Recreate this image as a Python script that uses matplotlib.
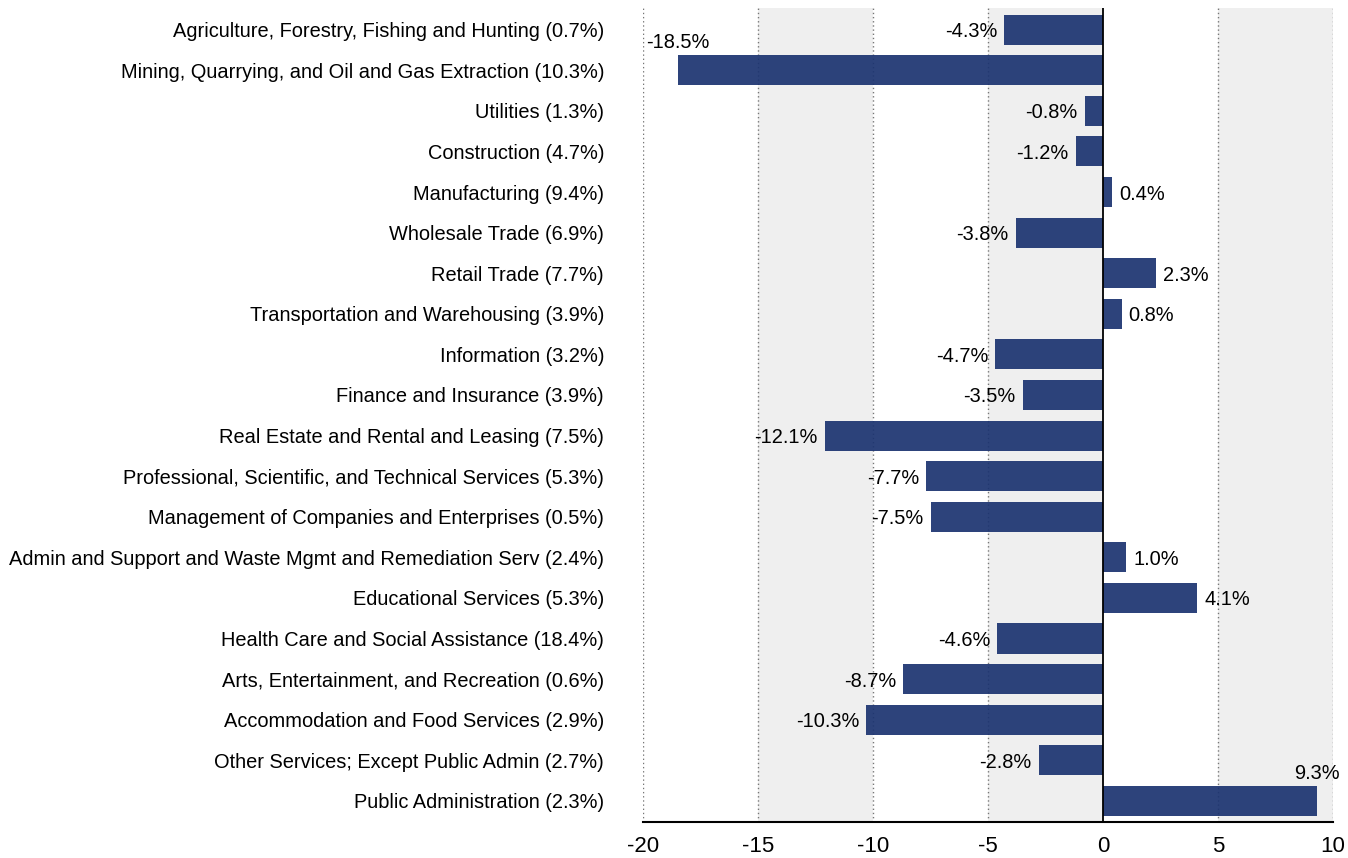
import matplotlib.pyplot as plt

categories = [
    "Agriculture, Forestry, Fishing and Hunting (0.7%)",
    "Mining, Quarrying, and Oil and Gas Extraction (10.3%)",
    "Utilities (1.3%)",
    "Construction (4.7%)",
    "Manufacturing (9.4%)",
    "Wholesale Trade (6.9%)",
    "Retail Trade (7.7%)",
    "Transportation and Warehousing (3.9%)",
    "Information (3.2%)",
    "Finance and Insurance (3.9%)",
    "Real Estate and Rental and Leasing (7.5%)",
    "Professional, Scientific, and Technical Services (5.3%)",
    "Management of Companies and Enterprises (0.5%)",
    "Admin and Support and Waste Mgmt and Remediation Serv (2.4%)",
    "Educational Services (5.3%)",
    "Health Care and Social Assistance (18.4%)",
    "Arts, Entertainment, and Recreation (0.6%)",
    "Accommodation and Food Services (2.9%)",
    "Other Services; Except Public Admin (2.7%)",
    "Public Administration (2.3%)",
]
values = [-4.3, -18.5, -0.8, -1.2, 0.4, -3.8, 2.3, 0.8, -4.7, -3.5,
          -12.1, -7.7, -7.5, 1.0, 4.1, -4.6, -8.7, -10.3, -2.8, 9.3]
xticks = [-20, -15, -10, -5, 0, 5, 10]

plt.rcParams["font.family"] = ["Liberation Sans", "DejaVu Sans"]
FS = 14.4

fig = plt.figure(figsize=(13.48, 8.58), dpi=100)
ax = fig.add_axes([0.477, 0.042, 0.512, 0.949])

# shaded bands
for lo in (-15, -5, 5):
    ax.axvspan(lo, lo + 5, color="#efefef", zorder=0, lw=0)
for x in xticks:
    if x != 0:
        ax.axvline(x, color="#777777", ls=(0, (1, 2)), lw=1.0, zorder=1)

pos = list(range(len(values)))
ax.barh(pos, values, height=0.74, color="#1b3370", alpha=0.92, zorder=2)
ax.axvline(0, color="black", lw=1.3, zorder=3)

for i, v in enumerate(values):
    txt = f"{v:.1f}%"
    if i in (1, 19):
        ax.text(v, i - 0.68, txt, ha="center", va="center", fontsize=FS, zorder=4)
    elif v < 0:
        ax.text(v - 0.3, i + 0.05, txt, ha="right", va="center", fontsize=FS, zorder=4)
    else:
        ax.text(v + 0.3, i + 0.05, txt, ha="left", va="center", fontsize=FS, zorder=4)

ax.set_xlim(-20, 10)
ax.set_ylim(19.52, -0.54)
ax.set_xticks(xticks)
ax.set_xticklabels([str(x) for x in xticks], fontsize=16)
ax.set_yticks(pos)
ax.set_yticklabels(categories, fontsize=FS)
ax.tick_params(axis="y", length=0, pad=28)
ax.tick_params(axis="x", length=0, pad=10)
for s in ("top", "right", "left"):
    ax.spines[s].set_visible(False)
ax.spines["bottom"].set_linewidth(1.5)
ax.spines["bottom"].set_zorder(5)

fig.savefig("out.png", dpi=100)
